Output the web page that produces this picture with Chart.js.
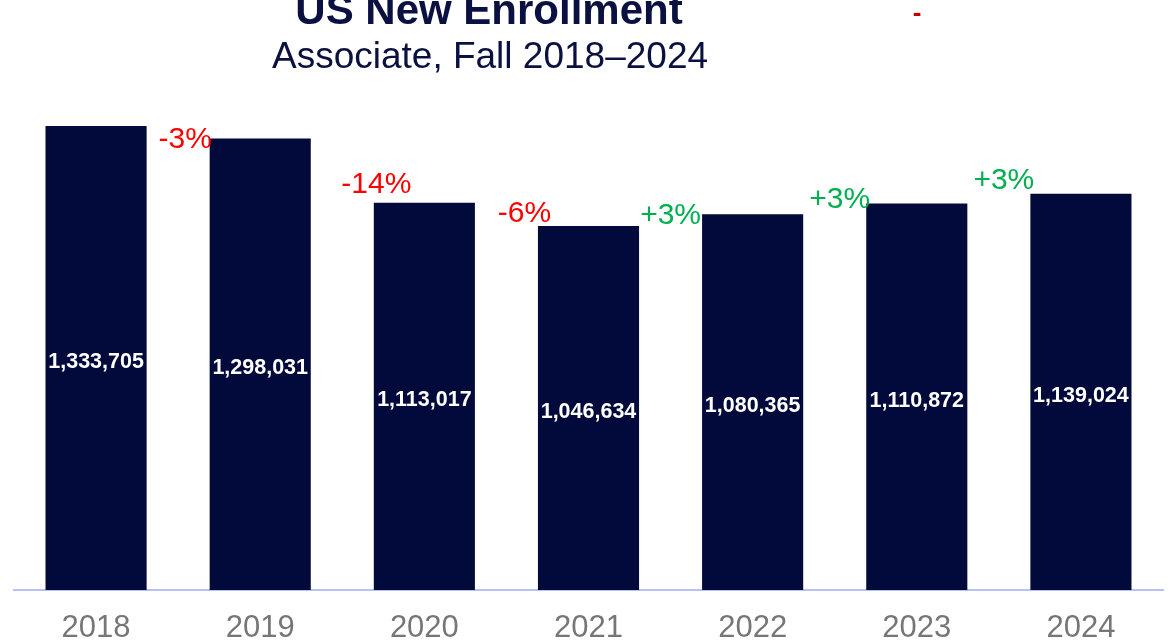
<!DOCTYPE html>
<html>
<head>
<meta charset="utf-8">
<title>US New Enrollment</title>
<script src="https://cdn.jsdelivr.net/npm/chart.js@4/dist/chart.umd.min.js"></script>
<style>
    html, body { margin: 0; padding: 0; background: #fff; }
    #wrap { width: 1173px; height: 644px; }
</style>
</head>
<body>
<div id="wrap"><canvas id="enrollment-chart"></canvas></div>
<script>
const years = ['2018', '2019', '2020', '2021', '2022', '2023', '2024']
const enrollment = [1333705, 1298031, 1113017, 1046634, 1080365, 1110872, 1139024]

const titleText = 'US New Enrollment'
const subtitleText = 'Associate, Fall 2018–2024'

// year-over-year change, rounded to whole percent
const changes = enrollment.map((v, i) => i === 0 ? null : Math.round((v / enrollment[i - 1] - 1) * 100))

const navy = '#020a3b'

// Headline text and the red dash beside it
const headerPlugin = {
    id: 'header',
    afterDraw(chart) {
        const ctx = chart.ctx
        ctx.save()
        ctx.textAlign = 'center'
        ctx.textBaseline = 'alphabetic'
        ctx.fillStyle = '#0a1040'
        ctx.font = 'bold 42px "Liberation Sans", Arial, sans-serif'
        ctx.fillText(titleText, 489, 24)
        ctx.font = '37px "Liberation Sans", Arial, sans-serif'
        ctx.fillText(subtitleText, 490, 68)
        ctx.fillStyle = '#c00000'
        ctx.font = 'bold 26px "Liberation Sans", Arial, sans-serif'
        ctx.textBaseline = 'middle'
        ctx.fillText('-', 917, 14)
        ctx.restore()
    }
}

// White totals inside the bars and the change labels between them
const barLabelsPlugin = {
    id: 'barLabels',
    afterDatasetsDraw(chart, args, opts) {
        const ctx = chart.ctx
        const bars = chart.getDatasetMeta(0).data
        ctx.save()
        ctx.textAlign = 'center'
        ctx.textBaseline = 'middle'

        ctx.fillStyle = '#ffffff'
        ctx.font = 'bold 21.5px "Liberation Sans", Arial, sans-serif'
        bars.forEach((bar, i) => {
            const mid = (bar.y + bar.base) / 2
            ctx.fillText(enrollment[i].toLocaleString('en-US'), bar.x, mid + 4)
        })

        ctx.font = '30px "Liberation Sans", Arial, sans-serif'
        bars.forEach((bar, i) => {
            if (changes[i] === null) return
            const prev = bars[i - 1]
            const nudge = opts.nudge[i] || [0, 0]
            const gapMid = ((prev.x + prev.width / 2) + (bar.x - bar.width / 2)) / 2
            const pct = changes[i]
            ctx.fillStyle = pct < 0 ? '#ff0000' : '#00b050'
            ctx.fillText((pct > 0 ? '+' : '') + pct + '%', gapMid + nudge[0], bar.y + nudge[1] + 3)
        })
        ctx.restore()
    }
}

new Chart(document.getElementById('enrollment-chart'), {
    type: 'bar',
    data: {
        labels: years,
        datasets: [{
            data: enrollment,
            backgroundColor: navy,
            borderWidth: 0,
            categoryPercentage: 1,
            barPercentage: 0.616
        }]
    },
    options: {
        responsive: true,
        maintainAspectRatio: false,
        animation: false,
        layout: { padding: { top: 103, left: 14, right: 10, bottom: -23 } },
        plugins: {
            legend: { display: false },
            tooltip: { enabled: false },
            barLabels: {
                nudge: [null, [7, -2], [34, -21], [18, -15], [0, -1], [5, -7], [5, -16]]
            }
        },
        scales: {
            x: {
                grid: { display: false, drawTicks: false },
                border: { color: '#b4c2f5', width: 2 },
                ticks: {
                    color: '#767676',
                    padding: 23,
                    font: { family: '"Liberation Sans", Arial, sans-serif', size: 31, lineHeight: 1 }
                }
            },
            y: {
                display: false,
                min: 0,
                max: 1400000
            }
        }
    },
    plugins: [headerPlugin, barLabelsPlugin]
})
</script>
</body>
</html>
